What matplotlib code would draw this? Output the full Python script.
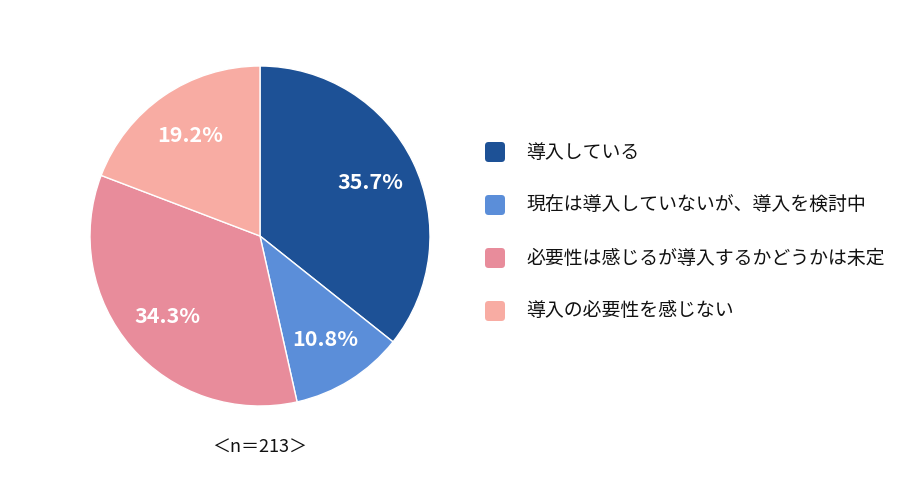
import matplotlib
matplotlib.use("Agg")
import matplotlib.pyplot as plt
from matplotlib.patches import FancyBboxPatch

plt.rcParams['font.family'] = ['Noto Sans CJK JP', 'DejaVu Sans']

categories = ["導入している", "現在は導入していないが、導入を検討中",
              "必要性は感じるが導入するかどうかは未定", "導入の必要性を感じない"]
values = [35.7, 10.8, 34.3, 19.2]
colors = ["#1d5196", "#5b8ed9", "#e88c9b", "#f8aca3"]
note = "＜n＝213＞"

W, H = 900, 503
fig = plt.figure(figsize=(W / 100, H / 100), dpi=100)
cx, cy, r = 260, 236, 170
ax = fig.add_axes([(cx - r) / W, (H - cy - r) / H, 2 * r / W, 2 * r / H])
wedges, texts, autotexts = ax.pie(
    values, colors=colors, startangle=90, counterclock=False, radius=1,
    autopct=lambda p: f"{p:.1f}%", pctdistance=0.72,
    wedgeprops=dict(edgecolor="white", linewidth=1.0),
    textprops=dict(color="white", fontsize=15.5, fontweight="bold"))
ax.set_xlim(-1, 1)
ax.set_ylim(-1, 1)
ax.set_aspect("equal")
ax.axis("off")

fig.text(cx / W, 1 - 448 / H, note, ha="center", va="center", fontsize=13, color="#111111")

rows = [152, 205, 258, 311]
for cat, col, y in zip(categories, colors, rows):
    sq = FancyBboxPatch(((485) / W, (H - y - 10) / H), 20 / W, 20 / H,
                        boxstyle="round,pad=0,rounding_size=0.004",
                        transform=fig.transFigure, facecolor=col, edgecolor="none",
                        mutation_aspect=W / H)
    fig.patches.append(sq)
    fig.text(526 / W, 1 - y / H, cat, ha="left", va="center", fontsize=13.6, color="#111111")

fig.savefig("out.png", dpi=100)
